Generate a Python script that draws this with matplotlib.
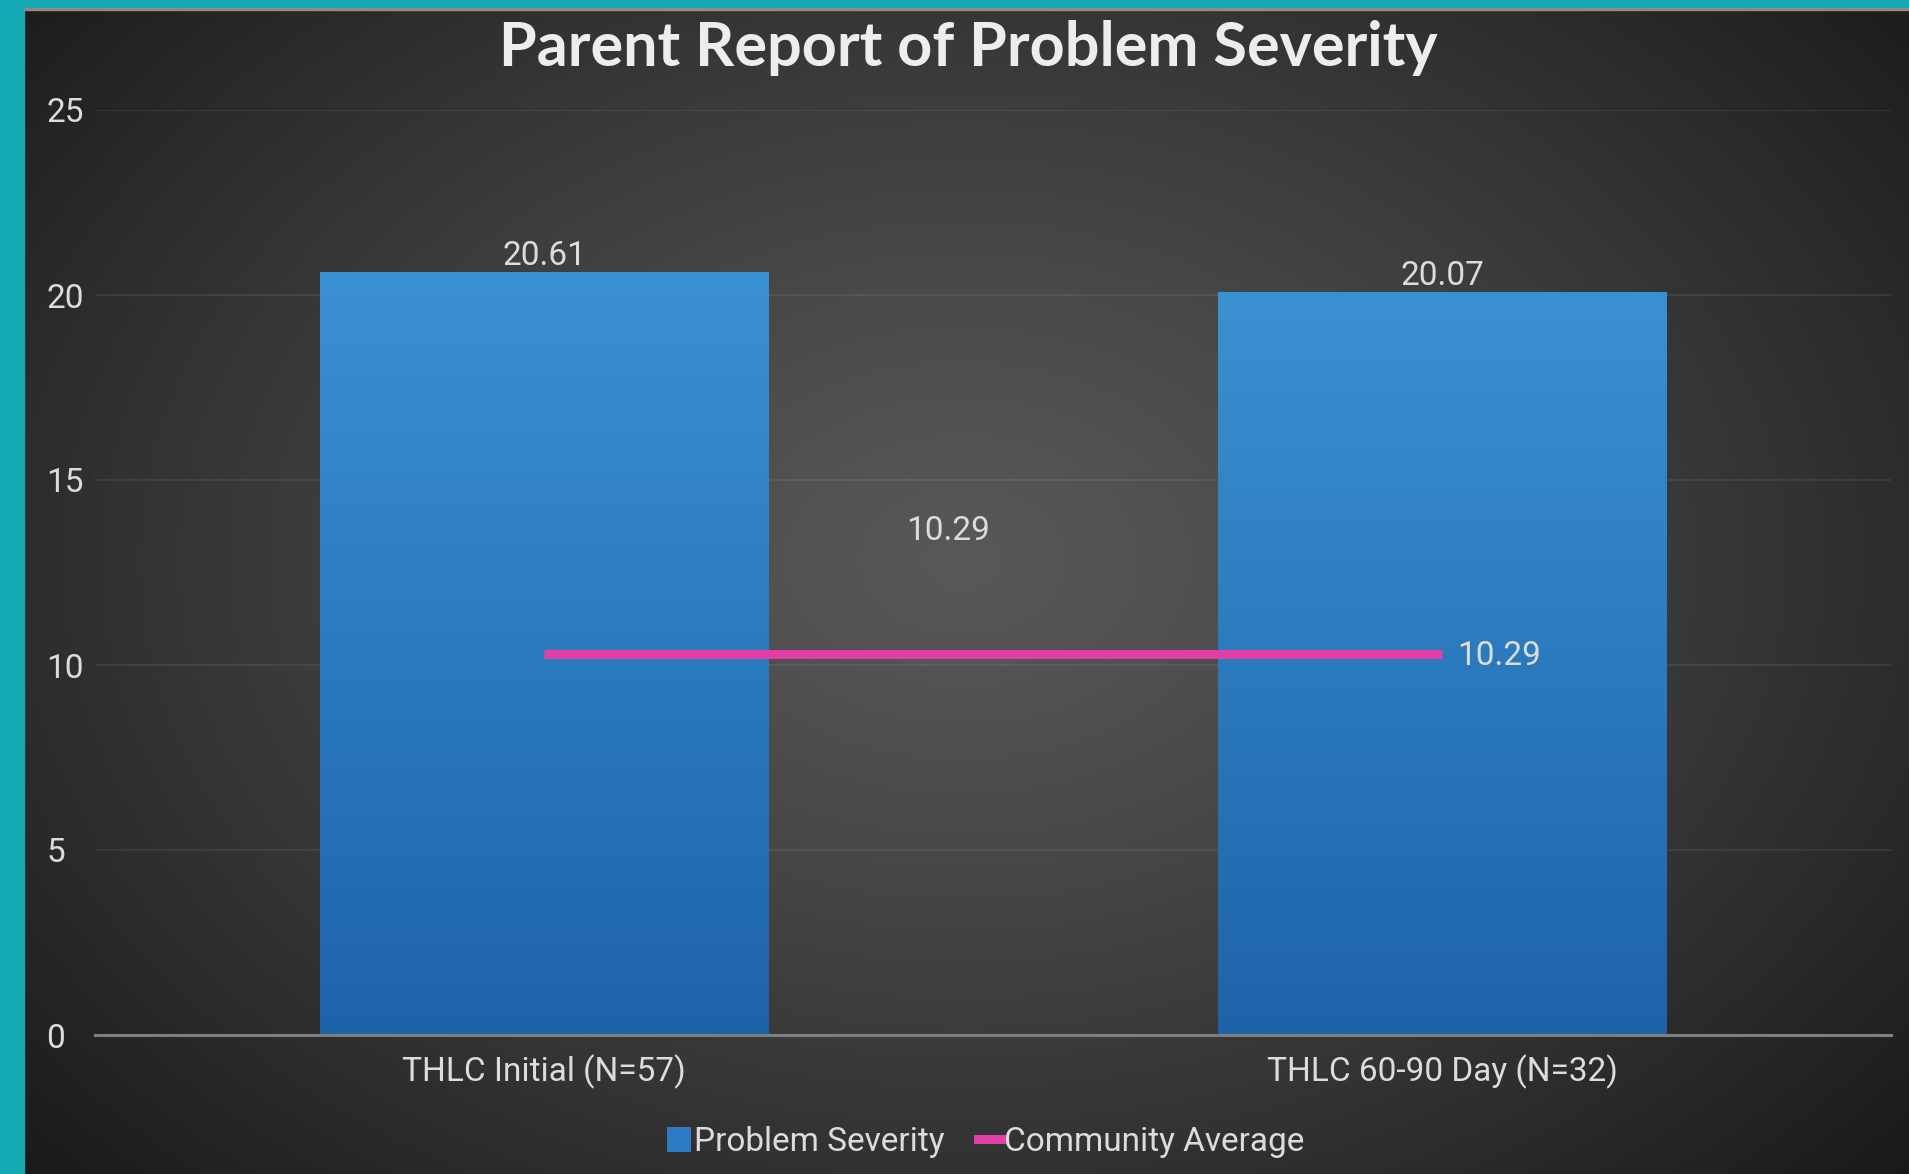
import numpy as np
import matplotlib
matplotlib.use("Agg")
import matplotlib.pyplot as plt
from matplotlib.patches import Rectangle, Patch
from matplotlib.lines import Line2D

# Chart data
categories = ["THLC Initial (N=57)", "THLC 60-90 Day (N=32)"]
problem_severity = [20.61, 20.07]
community_average = [10.29, 10.29]
y_ticks = [0, 5, 10, 15, 20, 25]
title = "Parent Report of Problem Severity"
series_names = ["Problem Severity", "Community Average"]

W, H, DPI = 1909, 1174, 100
fig = plt.figure(figsize=(W / DPI, H / DPI), dpi=DPI)

TEXT = "#DCDCDC"
NARROW = ["Roboto", "DejaVu Sans"]
TITLE_FONT = ["Lato", "DejaVu Sans"]
PINK = "#E23FA6"
FS = 24

# Dark radial background
bg = fig.add_axes([0, 0, 1, 1], zorder=-10)
yy, xx = np.mgrid[0:H, 0:W]
cx, cy = 962, 560
r = np.sqrt(((xx - cx) / (W * 0.6)) ** 2 + ((yy - cy) / (H * 0.7)) ** 2)
level = (88 - 55 * np.clip(r, 0, 1.15) ** 1.2) / 255.0
img = np.dstack([level, level, level])
bg.imshow(img, extent=(0, 1, 0, 1), aspect="auto", origin="upper")
bg.set_xlim(0, 1)
bg.set_ylim(0, 1)
bg.axis("off")

# Teal frame on the left and top
fig.patches.append(Rectangle((0, 0), 24 / W, 1, transform=fig.transFigure,
                             color="#14A8B4", zorder=5))
fig.patches.append(Rectangle((0, 1 - 8 / H), 1, 8 / H, transform=fig.transFigure,
                             color="#14A8B4", zorder=5))
fig.patches.append(Rectangle((24 / W, 1 - 10 / H), 1, 2 / H, transform=fig.transFigure,
                             color="#8C8C8C", zorder=5))

ax = fig.add_axes([95 / W, 1 - 1035 / H, (1891 - 95) / W, (1035 - 110) / H])
ax.patch.set_alpha(0)

x = np.arange(len(categories))
bars = ax.bar(x, problem_severity, width=0.5, facecolor="none", edgecolor="none", zorder=2)

# Vertical gradient fill inside each bar
grad = np.linspace(0, 1, 256).reshape(-1, 1)
top = np.array([58, 145, 210]) / 255.0
bot = np.array([30, 99, 170]) / 255.0
gimg = (top[None, None, :] * (1 - grad[:, :, None]) + bot[None, None, :] * grad[:, :, None])
for b in bars:
    x0, w, h = b.get_x(), b.get_width(), b.get_height()
    im = ax.imshow(gimg, extent=(x0, x0 + w, 0, h), aspect="auto", origin="upper", zorder=2)
    im.set_clip_path(b)

# Community average line
ax.plot(x, community_average, color=PINK, lw=6.5, solid_capstyle="butt", zorder=4)

ax.set_xlim(-0.5, len(categories) - 0.5)
ax.set_ylim(0, 25)
ax.set_yticks(y_ticks)
ax.set_xticks(x)
ax.set_xticklabels(categories)

for s in ["top", "right", "left"]:
    ax.spines[s].set_visible(False)
ax.spines["bottom"].set_color("#7F7F7F")
ax.spines["bottom"].set_linewidth(2.2)
ax.spines["bottom"].set_zorder(3)

ax.grid(axis="y", color="#FFFFFF", alpha=0.07, lw=1.6, zorder=0)
ax.set_axisbelow(True)
ax.tick_params(axis="both", length=0, colors=TEXT)
ax.tick_params(axis="y", pad=35)
ax.tick_params(axis="x", pad=14)
for lab in ax.get_yticklabels():
    lab.set_fontfamily(NARROW)
    lab.set_fontsize(FS)
    lab.set_horizontalalignment("left")
for lab in ax.get_xticklabels():
    lab.set_fontfamily(NARROW)
    lab.set_fontsize(FS)

# Value labels
for xi, v in zip(x, problem_severity):
    ax.annotate(f"{v:.2f}", xy=(xi, v), xytext=(0, 0.5), textcoords="offset points",
                ha="center", va="bottom", color=TEXT, fontsize=FS, family=NARROW)
ax.annotate(f"{community_average[0]:.2f}", xy=(x[0], community_average[0]),
            xytext=(291, 89), textcoords="offset points", ha="center", va="center",
            color=TEXT, fontsize=FS, family=NARROW)
ax.annotate(f"{community_average[1]:.2f}", xy=(x[1], community_average[1]),
            xytext=(11, -1), textcoords="offset points", ha="left", va="center",
            color=TEXT, fontsize=FS, family=NARROW)

fig.text(968 / W, 1 - 48 / H, title, ha="center", va="center", color="#EDEDED",
         fontsize=44, fontweight="bold", family=TITLE_FONT)

handles = [Patch(facecolor="#2E7BC4", edgecolor="none"),
           Line2D([0], [0], color=PINK, lw=6.5)]
leg = fig.legend(handles, series_names, loc="center", bbox_to_anchor=(0.5165, 1 - 1142 / H),
                 ncol=2, frameon=False, handlelength=0.7, handleheight=0.8,
                 handletextpad=0.1, columnspacing=1.0,
                 prop={"family": NARROW, "size": FS})
for t in leg.get_texts():
    t.set_color(TEXT)

fig.savefig("out.png", dpi=DPI)
